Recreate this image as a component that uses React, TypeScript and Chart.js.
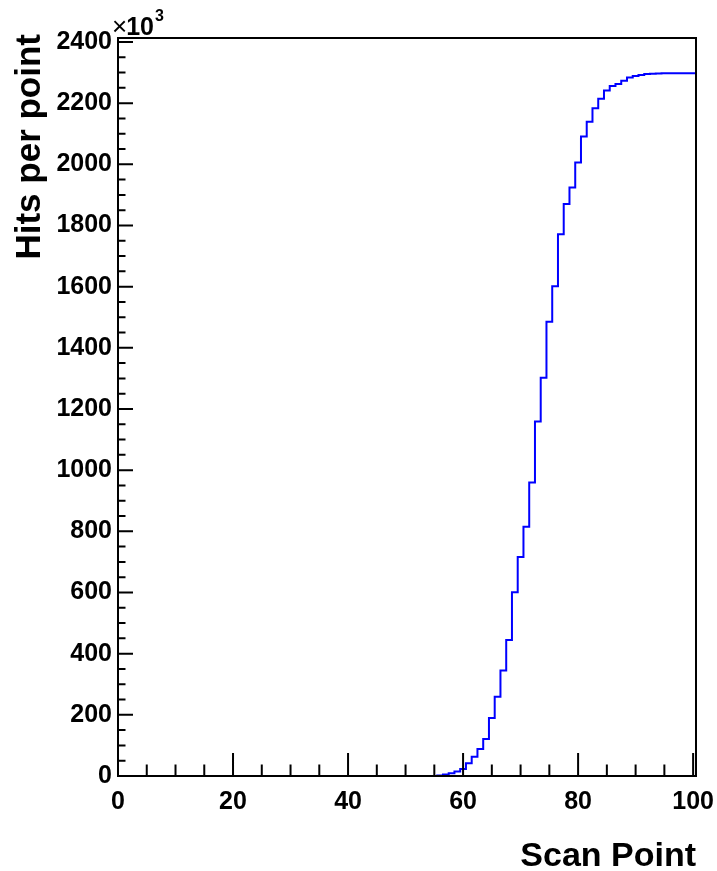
import { useEffect, useRef } from "react";
import { Chart, registerables } from "chart.js";

Chart.register(...registerables);

// Scan points (bin centres) and hits per point (in units of 10^3)
const scanPoints = [
  0, 1, 2, 3, 4, 5, 6, 7, 8, 9, 10, 11, 12, 13, 14, 15, 16, 17, 18, 19,
  20, 21, 22, 23, 24, 25, 26, 27, 28, 29, 30, 31, 32, 33, 34, 35, 36, 37, 38, 39,
  40, 41, 42, 43, 44, 45, 46, 47, 48, 49, 50, 51, 52, 53, 54, 55, 56, 57, 58, 59,
  60, 61, 62, 63, 64, 65, 66, 67, 68, 69, 70, 71, 72, 73, 74, 75, 76, 77, 78, 79,
  80, 81, 82, 83, 84, 85, 86, 87, 88, 89, 90, 91, 92, 93, 94, 95, 96, 97, 98, 99,
  100,
];

const hits = [
  0, 0, 0, 0, 0, 0, 0, 0, 0, 0, 0, 0, 0, 0, 0, 0, 0, 0, 0, 0,
  0, 0, 0, 0, 0, 0, 0, 0, 0, 0, 0, 0, 0, 0, 0, 0, 0, 0, 0, 0,
  0, 0, 0, 0, 0, 0, 0, 0, 0, 0, 0, 0, 0, 0, 0, 0, 0, 2, 5, 9,
  15, 23, 42, 63, 88, 121, 190, 259, 345, 445, 601, 716, 815, 960, 1159, 1302, 1485, 1601, 1771, 1870,
  1924, 2006, 2091, 2139, 2183, 2214, 2241, 2256, 2263, 2273, 2284, 2289, 2292, 2295, 2296, 2297, 2298, 2298, 2298, 2298,
  2298,
];

const xTickLabels = ["0", "20", "40", "60", "80", "100"];
const yTickLabels = ["0", "200", "400", "600", "800", "1000", "1200", "1400", "1600", "1800", "2000", "2200", "2400"];

const binWidth = 1;
const xMin = 0;
const xMax = 100.5;
const yMin = 0;
const yMax = 2413;
const xMajorStep = 20;
const xMinorStep = 5;
const yMajorStep = 200;
const yMinorStep = 50;

const FONT = '"Liberation Sans", Arial, Helvetica, sans-serif';

export default function App() {
  const ref = useRef<HTMLCanvasElement | null>(null);

  useEffect(() => {
    const canvas = ref.current;
    if (!canvas) return;

    const pts = scanPoints.map((x, i) => ({ x: x - binWidth / 2, y: hits[i] }));
    pts.push({
      x: scanPoints[scanPoints.length - 1] + binWidth / 2,
      y: hits[hits.length - 1],
    });

    const framePlugin = {
      id: "rootFrame",
      afterDatasetsDraw(chart: any) {
        const ctx = chart.ctx as CanvasRenderingContext2D;
        const { left, right, top, bottom } = chart.chartArea;
        const xs = chart.scales.x;
        const ys = chart.scales.y;
        ctx.save();
        ctx.strokeStyle = "#000";
        ctx.lineWidth = 2;
        ctx.beginPath();
        ctx.rect(left, top, right - left, bottom - top);
        ctx.stroke();

        ctx.lineWidth = 2;
        ctx.beginPath();
        // x ticks (inward)
        for (let v = xMin; v <= xMax + 1e-9; v += xMinorStep) {
          const px = xs.getPixelForValue(v);
          const major = Math.abs(v % xMajorStep) < 1e-9;
          const len = major ? 23 : 11.5;
          ctx.moveTo(px, bottom);
          ctx.lineTo(px, bottom - len);
        }
        // y ticks (inward)
        for (let v = yMin; v <= yMax + 1e-9; v += yMinorStep) {
          const py = ys.getPixelForValue(v);
          const major = Math.abs(v % yMajorStep) < 1e-9;
          const len = major ? 15 : 7.5;
          ctx.moveTo(left, py);
          ctx.lineTo(left + len, py);
        }
        ctx.stroke();

        // titles
        ctx.fillStyle = "#000";
        ctx.font = `bold 34px ${FONT}`;
        ctx.textAlign = "right";
        ctx.textBaseline = "alphabetic";
        ctx.fillText("Scan Point", right, 866);

        ctx.font = `bold 35px ${FONT}`;
        ctx.save();
        ctx.translate(40, top - 4);
        ctx.rotate(-Math.PI / 2);
        ctx.textAlign = "right";
        ctx.fillText("Hits per point", 0, 0);
        ctx.restore();

        // exponent label
        ctx.textAlign = "left";
        ctx.font = `26px ${FONT}`;
        const x0 = left - 6;
        ctx.fillText("\u00d7", x0, 35);
        const wx = ctx.measureText("\u00d7").width;
        ctx.font = `bold 25px ${FONT}`;
        ctx.fillText("10", x0 + wx - 1, 35);
        const w10 = ctx.measureText("10").width;
        ctx.font = `bold 16px ${FONT}`;
        ctx.fillText("3", x0 + wx + w10, 21);
        ctx.restore();
      },
    };

    const chart = new Chart(canvas, {
      type: "line",
      data: {
        datasets: [
          {
            data: pts,
            stepped: "after",
            borderColor: "#0000ff",
            borderWidth: 2,
            pointRadius: 0,
            fill: false,
          },
        ],
      },
      options: {
        animation: false,
        responsive: false,
        maintainAspectRatio: false,
        layout: { padding: { left: 0, right: 21, top: 38, bottom: 0 } },
        plugins: {
          legend: { display: false },
          tooltip: { enabled: false },
        },
        scales: {
          x: {
            type: "linear",
            min: xMin,
            max: xMax,
            grid: { display: false, drawTicks: false },
            border: { display: false },
            afterBuildTicks: (s: any) => {
              s.ticks = xTickLabels.map((t) => ({ value: Number(t) }));
            },
            ticks: {
              color: "#000",
              font: { family: FONT, size: 25, weight: "bold" },
              padding: 11,
              maxRotation: 0,
              autoSkip: false,
              callback: (v: any) => String(v),
            },
            afterFit: (s: any) => {
              s.height = 95;
              s.paddingLeft = 0;
              s.paddingRight = 0;
            },
          },
          y: {
            type: "linear",
            min: yMin,
            max: yMax,
            grid: { display: false, drawTicks: false },
            border: { display: false },
            afterBuildTicks: (s: any) => {
              s.ticks = yTickLabels.map((t) => ({ value: Number(t) }));
            },
            ticks: {
              color: "#000",
              font: { family: FONT, size: 25, weight: "bold" },
              padding: 6,
              autoSkip: false,
              callback: (v: any) => String(v),
            },
            afterFit: (s: any) => {
              s.width = 118;
              s.paddingTop = 0;
              s.paddingBottom = 0;
            },
          },
        },
      },
      plugins: [framePlugin],
    });

    return () => chart.destroy();
  }, []);

  return (
    <div style={{ position: "absolute", left: 0, top: 0, width: 717, height: 871, background: "#fff" }}>
      <canvas ref={ref} width={717} height={871} style={{ width: 717, height: 871, display: "block" }} />
    </div>
  );
}
